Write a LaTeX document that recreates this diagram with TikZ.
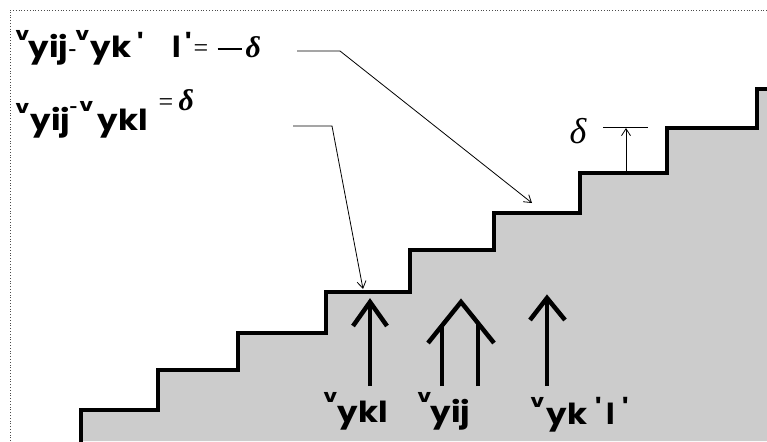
\documentclass[tikz,border=0pt]{standalone}
\usepackage{graphicx}
\usepackage{fontspec}
\setmainfont{Poppins}
\newfontfamily\grk{Liberation Serif}
\usetikzlibrary{arrows.meta}
\newcommand\putat[3]{\rlap{\kern#1pt\raisebox{#2pt}{#3}}}
\newcommand\wide[1]{\scalebox{1.12}[1]{#1}}
\newcommand\supv{{\fontsize{18}{18}\selectfont\scalebox{1.2}[1]{v}}}
\newcommand\smallhy{{\fontsize{14}{14}\selectfont -}}
\newcommand\bigd[1]{{\fontsize{#1}{#1}\selectfont\grk\itshape δ}}
\newcommand\sereq{{\fontsize{26}{26}\selectfont\grk\mdseries =}}
\begin{document}
\begin{tikzpicture}[x=1pt,y=-1pt,
  stair/.style={line width=4.5pt, line join=miter},
  vec/.style={line width=4.5pt, line join=miter},
  leader/.style={line width=0.8pt, -{Straight Barb[length=7pt,width=9pt]}},
  lbl/.style={font=\fontsize{29}{29}\selectfont\bfseries, inner sep=0pt, anchor=base west},
  dlt/.style={inner sep=0pt},
  frame/.style={dotted, line width=0.8pt, black!70},
  shade/.style={fill=black!20}
]
\useasboundingbox (0,0) rectangle (767,441);
% frame
\draw[frame] (10,441) -- (10,10) -- (767,10);
% staircase fill and outline
\fill[shade] (81,441) -- (81,410) -- (158,410) -- (158,370) -- (238,370) -- (238,333)
  -- (326,333) -- (326,292) -- (410,292) -- (410,250) -- (494,250) -- (494,213)
  -- (580,213) -- (580,173) -- (667,173) -- (667,128) -- (757,128) -- (757,89)
  -- (767,89) -- (767,441) -- cycle;
\draw[stair] (81,444) -- (81,410) -- (158,410) -- (158,370) -- (238,370) -- (238,333)
  -- (326,333) -- (326,292) -- (410,292) -- (410,250) -- (494,250) -- (494,213)
  -- (580,213) -- (580,173) -- (667,173) -- (667,128) -- (757,128) -- (757,89)
  -- (770,89);
% upward vectors
\coordinate (a1b) at (370,386); \coordinate (a1t) at (370,302);
\draw[vec] (a1b) -- (a1t);
\draw[vec] (353,326) -- (a1t) -- (387,326);
\coordinate (a2l) at (442,386); \coordinate (a2r) at (478,386); \coordinate (a2t) at (461,302);
\draw[vec] (a2l) -- (442,324);
\draw[vec] (a2r) -- (478,324);
\draw[vec] (428,343) -- (a2t) -- (494,343);
\coordinate (a3b) at (547,386); \coordinate (a3t) at (547,298);
\draw[vec] (a3b) -- (a3t);
\draw[vec] (530,320) -- (a3t) -- (565,320);
% labels
\node[lbl] (L1) at (15,58) {\putat{0}{17}{\supv}\putat{13}{0}{\wide{yij}}\putat{53}{2}{\smallhy}%
  \putat{60}{17}{\supv}\putat{75}{0}{\wide{yk}}\putat{122}{2}{\textquotesingle}\putat{157}{0}{l}%
  \putat{170}{2}{\textquotesingle}\putat{178}{1}{\sereq}\putat{202}{8}{\rule{24pt}{1.6pt}}\putat{230}{0}{\bigd{30}}};
\node[lbl] (L2) at (15,130) {\putat{0}{17}{\supv}\putat{15}{0}{\wide{yij}}\putat{54}{18}{\smallhy}%
  \putat{64}{19}{\supv}\putat{82}{0}{\wide{ykl}}\putat{143}{20}{\sereq}\putat{163}{20}{\bigd{30}}};
\node[lbl] (B1) at (323,422) {\putat{0}{20}{\supv}\putat{14}{0}{\wide{ykl}}};
\node[lbl] (B2) at (417,422) {\putat{0}{20}{\supv}\putat{13}{0}{\wide{yij}}};
\node[lbl] (B3) at (530,424) {\putat{0}{17}{\supv}\putat{16}{0}{\wide{yk}}\putat{65}{4}{\textquotesingle}%
  \putat{76}{0}{l}\putat{92}{4}{\textquotesingle}};
% leader lines
\coordinate (p1) at (297,51); \coordinate (q1) at (340,51); \coordinate (r1) at (532,203);
\draw[leader] (p1) -- (q1) -- (r1);
\coordinate (p2) at (293,126); \coordinate (q2) at (332,126); \coordinate (r2) at (363,289);
\draw[leader] (p2) -- (q2) -- (r2);
% delta step marker
\coordinate (t1) at (603,127); \coordinate (t2) at (648,127);
\draw[line width=0.8pt] (t1) -- (t2);
\coordinate (d1) at (626,171); \coordinate (d2) at (626,128);
\draw[leader] (d1) -- (d2);
\node[dlt] (D) at (578,131) {\bigd{36}};
\end{tikzpicture}
\end{document}
